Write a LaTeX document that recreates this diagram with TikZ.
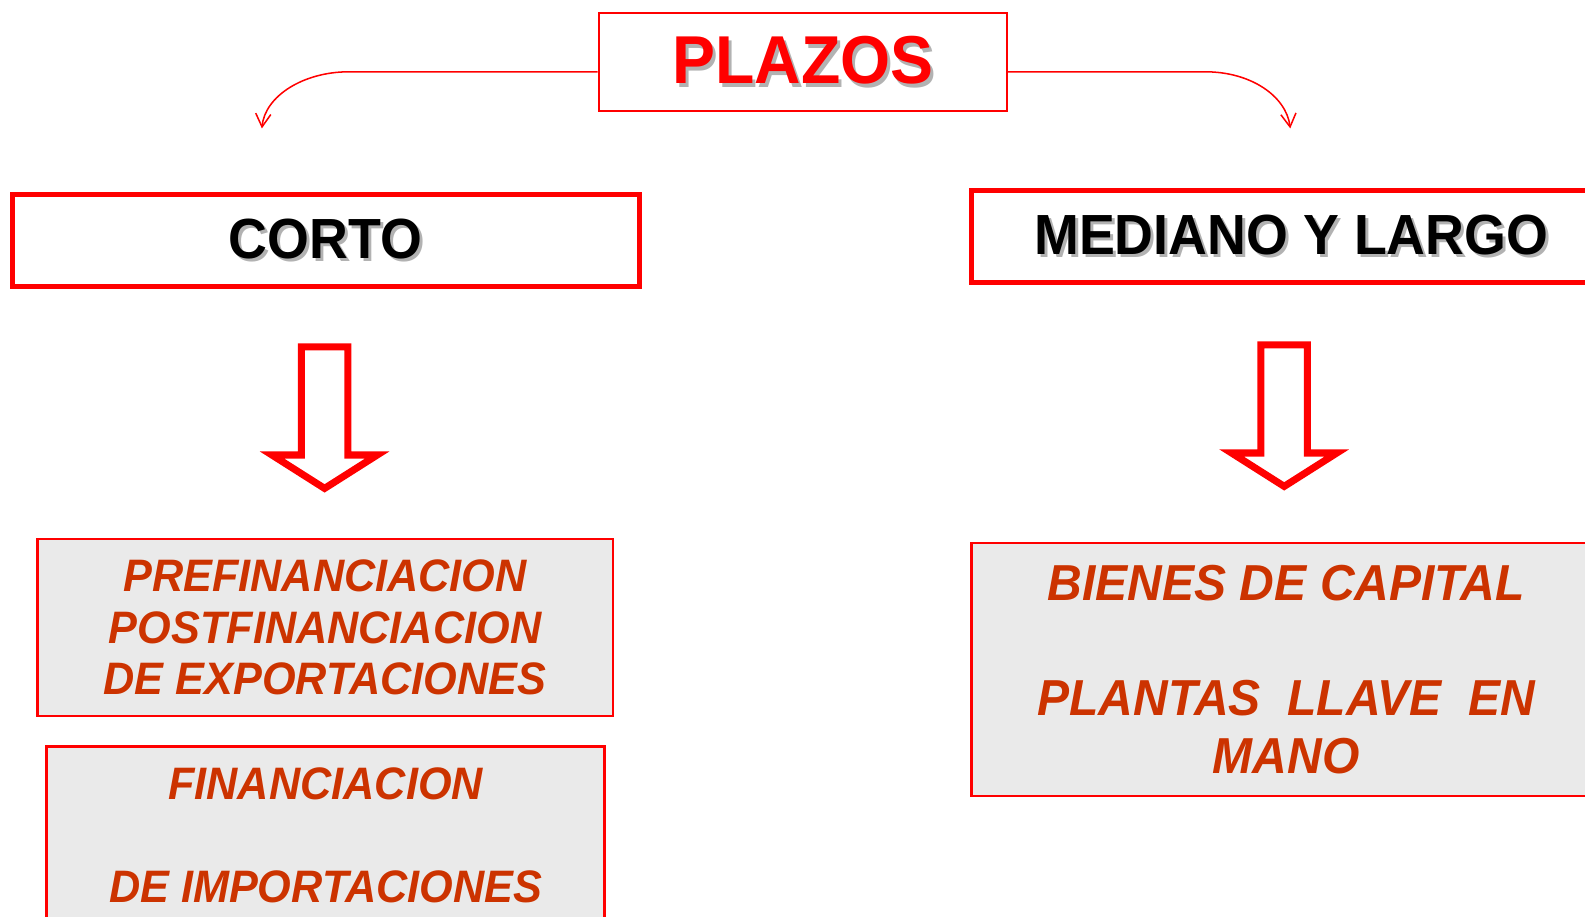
\documentclass[tikz,border=0pt]{standalone}
\usepackage{fontspec}
\setmainfont{Liberation Sans}[FakeStretch=0.95]
\usetikzlibrary{arrows.meta}
\definecolor{plazo_red}{RGB}{255, 0, 0}
\definecolor{item_orange}{RGB}{204, 51, 0}
\definecolor{item_gray}{RGB}{234, 234, 234}
\newcommand{\sombra}[1]{\rlap{\kern3pt\raisebox{-3pt}{\color{black!30}#1}}#1}

\begin{document}
\begin{tikzpicture}[x=1pt, y=-1pt,
  titlebox/.style={draw=plazo_red, line width=2pt, minimum width=404pt, minimum height=97pt, text=plazo_red, font=\bfseries\fontsize{67}{70}\selectfont},
  headbox/.style={draw=plazo_red, line width=5pt, minimum height=91pt, font=\bfseries\fontsize{56}{60}\selectfont},
  itembox/.style={draw=plazo_red, line width=2.5pt, fill=item_gray, text=item_orange, align=center, font=\bfseries\itshape\fontsize{45}{51}\selectfont},
  bloque/.style={draw=plazo_red, line width=7pt, fill=white},
  curva/.style={plazo_red, line width=1.5pt, -{Straight Barb[length=13pt, width=15pt]}}]
\useasboundingbox (0,0) rectangle (1567.5,906.8);
\node[titlebox] (plazos) at (794,61.5) {\sombra{PLAZOS}};
\node[headbox, minimum width=620pt] (corto) at (322,238) {\sombra{CORTO}};
\node[headbox, minimum width=632pt] (largo) at (1277,234) {\sombra{MEDIANO Y LARGO}};
\coordinate (cortotip) at (259,127);
\coordinate (largotip) at (1276,127);
\draw[curva] ([yshift=-9.5pt]plazos.west) -- (345,71) .. controls (300,71) and (262,95) .. (cortotip);
\draw[curva] ([yshift=-9.5pt]plazos.east) -- (1192,71) .. controls (1237,71) and (1272,95) .. (largotip);
\foreach \cx/\cy in {321/343, 1270/341}
  \draw[bloque] (\cx-23,\cy) -- (\cx+23,\cy) -- (\cx+23,\cy+107) -- (\cx+52,\cy+107) -- (\cx,\cy+140) -- (\cx-52,\cy+107) -- (\cx-23,\cy+107) -- cycle;
\node[itembox, minimum width=569pt, minimum height=175pt] (prefin) at (321.5,620.5) {PREFINANCIACION\\POSTFINANCIACION\\DE EXPORTACIONES};
\node[itembox, minimum width=552pt, minimum height=240pt, anchor=north] (importbox) at (322,737) {};
\node[text=item_orange, align=center, font=\bfseries\itshape\fontsize{45}{51}\selectfont] (import) at (322,826) {FINANCIACION\\[51pt]DE IMPORTACIONES};
\node[itembox, minimum width=622pt, minimum height=250pt, font=\bfseries\itshape\fontsize{50}{57}\selectfont] (bienes) at (1272,662) {BIENES DE CAPITAL\\[57pt]PLANTAS~~LLAVE~~EN\\MANO};
\end{tikzpicture}
\end{document}
